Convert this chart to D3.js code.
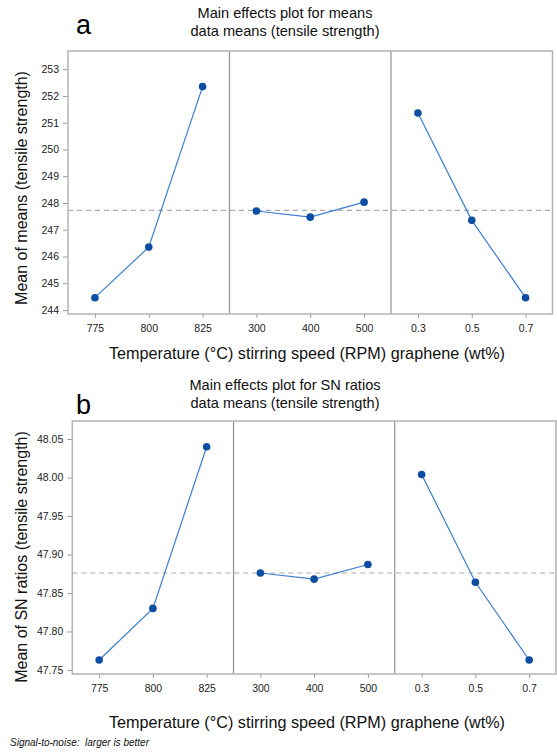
<!DOCTYPE html>
<html>
<head>
<meta charset="utf-8">
<script src="https://cdn.jsdelivr.net/npm/d3@7"></script>
<style>
  body { margin: 0; background: #fff; }
  svg { display: block; font-family: "Liberation Sans", Arial, Helvetica, sans-serif; }
</style>
</head>
<body>
<svg id="chart" width="557" height="752"></svg>
<script>
// factor levels
const tempLevels = ["775", "800", "825"];
const speedLevels = ["300", "400", "500"];
const grapheneLevels = ["0.3", "0.5", "0.7"];

// panel a: means
const meansTemp = [244.46, 246.35, 252.35];
const meansSpeed = [247.70, 247.47, 248.03];
const meansGraphene = [251.36, 247.35, 244.46];
const meansGrand = 247.72;
const meansTicks = [244, 245, 246, 247, 248, 249, 250, 251, 252, 253];

// panel b: SN ratios
const snTemp = [47.763, 47.830, 48.040];
const snSpeed = [47.876, 47.868, 47.887];
const snGraphene = [48.004, 47.864, 47.763];
const snGrand = 47.876;
const snTicks = [47.75, 47.80, 47.85, 47.90, 47.95, 48.00, 48.05];

const svg = d3.select("#chart");

function drawPanel(opt) {
    const g = svg.append("g");
    const width = opt.right - opt.left;
    const panelW = width / 3;

    const y = d3.scaleLinear()
        .domain(opt.domain)
        .range([opt.bottom, opt.top]);

    //y axis with outside ticks
    const yAxis = g.append("g")
        .attr("transform", `translate(${opt.left},0)`)
        .call(d3.axisLeft(y).tickValues(opt.ticks).tickFormat(opt.fmt).tickSize(5).tickPadding(4));
    yAxis.select(".domain").remove();
    yAxis.selectAll(".tick line").attr("stroke", "#999");
    yAxis.selectAll(".tick text").attr("font-size", 10.5).attr("fill", "#222");

    // mean line across all panels
    g.append("line")
        .attr("x1", opt.left).attr("x2", opt.right)
        .attr("y1", y(opt.grand)).attr("y2", y(opt.grand))
        .attr("stroke", "#aaa")
        .attr("stroke-width", 1.2)
        .attr("stroke-dasharray", "5,4");

    opt.series.forEach((s, i) => {
        const x0 = opt.left + i * panelW;
        const x = d3.scalePoint()
            .domain(s.levels)
            .range([x0, x0 + panelW])
            .padding(0.5);

        const xAxis = g.append("g")
            .attr("transform", `translate(0,${opt.bottom})`)
            .call(d3.axisBottom(x).tickSize(4).tickPadding(7));
        xAxis.select(".domain").remove();
        xAxis.selectAll(".tick line").attr("stroke", "#999");
        xAxis.selectAll(".tick text").attr("font-size", 10.5).attr("fill", "#222");

        const pts = s.levels.map((l, k) => [x(l), y(s.values[k])]);

        g.append("path")
            .attr("d", d3.line()(pts))
            .attr("fill", "none")
            .attr("stroke", "#3b7dd2")
            .attr("stroke-width", 1.2);

        g.selectAll(null)
            .data(pts)
            .enter()
            .append("circle")
            .attr("cx", d => d[0])
            .attr("cy", d => d[1])
            .attr("r", 3.8)
            .attr("fill", "#0b4ea2");

        if (i > 0) {
            g.append("line")
                .attr("x1", x0).attr("x2", x0)
                .attr("y1", opt.top).attr("y2", opt.bottom)
                .attr("stroke", "#999")
                .attr("stroke-width", 1.3);
        }
    });

    // frame
    g.append("rect")
        .attr("x", opt.left).attr("y", opt.top)
        .attr("width", width).attr("height", opt.bottom - opt.top)
        .attr("fill", "none")
        .attr("stroke", "#b3b3b3")
        .attr("stroke-width", 1.5);

    // titles
    g.append("text")
        .attr("x", 285).attr("y", opt.titleY)
        .attr("text-anchor", "middle")
        .attr("font-size", 14.6)
        .attr("fill", "#111")
        .text(opt.title);
    g.append("text")
        .attr("x", 285).attr("y", opt.titleY + 18)
        .attr("text-anchor", "middle")
        .attr("font-size", 14.6)
        .attr("fill", "#111")
        .text("data means (tensile strength)");

    g.append("text")
        .attr("x", 76).attr("y", opt.letterY)
        .attr("font-size", 27)
        .attr("fill", "#000")
        .text(opt.letter);

    // y label
    g.append("text")
        .attr("transform", `translate(${opt.ylabelX},${opt.ylabelY}) rotate(-90)`)
        .attr("text-anchor", "middle")
        .attr("font-size", 16)
        .attr("fill", "#111")
        .text(opt.ylabel);

    // x label
    g.append("text")
        .attr("x", 307).attr("y", opt.xlabelY)
        .attr("text-anchor", "middle")
        .attr("font-size", 16.2)
        .attr("fill", "#111")
        .text("Temperature (°C) stirring speed (RPM) graphene (wt%)");
}

drawPanel({
    left: 68, right: 552.5, top: 51, bottom: 314,
    domain: [243.85, 253.68],
    ticks: meansTicks,
    fmt: d3.format("d"),
    grand: meansGrand,
    series: [
        { levels: tempLevels, values: meansTemp },
        { levels: speedLevels, values: meansSpeed },
        { levels: grapheneLevels, values: meansGraphene }
    ],
    title: "Main effects plot for means",
    titleY: 18,
    letter: "a",
    letterY: 34,
    ylabel: "Mean of means (tensile strength)",
    ylabelX: 27, ylabelY: 188,
    xlabelY: 359
});

drawPanel({
    left: 72.3, right: 556, top: 421, bottom: 674,
    domain: [47.7448, 48.0734],
    ticks: snTicks,
    fmt: d3.format(".2f"),
    grand: snGrand,
    series: [
        { levels: tempLevels, values: snTemp },
        { levels: speedLevels, values: snSpeed },
        { levels: grapheneLevels, values: snGraphene }
    ],
    title: "Main effects plot for SN ratios",
    titleY: 390,
    letter: "b",
    letterY: 414,
    ylabel: "Mean of SN ratios (tensile strength)",
    ylabelX: 27, ylabelY: 557,
    xlabelY: 728
});

// footnote
svg.append("text")
    .attr("x", 10).attr("y", 746)
    .attr("font-size", 10)
    .attr("font-style", "italic")
    .attr("fill", "#111")
    .attr("xml:space", "preserve")
    .text("Signal-to-noise:  larger is better");
</script>
</body>
</html>
